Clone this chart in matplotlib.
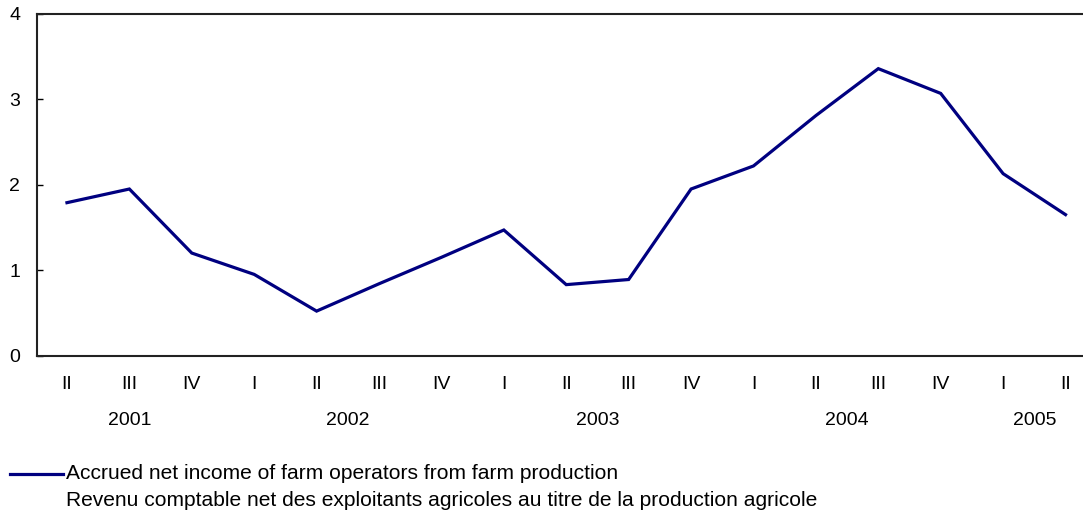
import matplotlib
matplotlib.use("Agg")
import matplotlib.pyplot as plt
from matplotlib.lines import Line2D
from matplotlib.transforms import blended_transform_factory

plt.rcParams['font.family'] = ['Liberation Sans', 'DejaVu Sans']

quarters = ["II", "III", "IV", "I", "II", "III", "IV", "I", "II", "III", "IV",
            "I", "II", "III", "IV", "I", "II"]
values = [1.79, 1.95, 1.20, 0.95, 0.52, 0.84, 1.15, 1.47, 0.83, 0.89, 1.95,
          2.22, 2.81, 3.36, 3.07, 2.13, 1.65]
years = ["2001", "2002", "2003", "2004", "2005"]
year_spans = [(0, 2), (3, 6), (7, 10), (11, 14), (15, 16)]
legend_en = "Accrued net income of farm operators from farm production"
legend_fr = "Revenu comptable net des exploitants agricoles au titre de la production agricole"

W, H = 1083, 513
fig = plt.figure(figsize=(W / 100, H / 100), dpi=100)
ax = fig.add_axes([37 / W, 1 - 355.5 / H, 1 - 37 / W, (355.5 - 14) / H])

x = list(range(len(values)))
ax.plot(x, values, color="#000080", linewidth=2.3, solid_joinstyle="miter")

ax.set_ylim(0, 4)
ax.set_xlim(-0.48, 16.28)
ax.set_yticks([0, 1, 2, 3, 4])
ax.set_yticklabels(["0", "1", "2", "3", "4"], fontsize=14)
ax.tick_params(axis="y", direction="in", length=4, width=1, pad=12, colors="black")
ax.set_xticks(x)
ax.set_xticklabels(quarters, fontsize=14)
ax.tick_params(axis="x", length=0, pad=15)

for s in ["left", "bottom", "top"]:
    ax.spines[s].set_linewidth(1.5)
    ax.spines[s].set_color("#222222")
ax.spines["right"].set_visible(False)

trans = blended_transform_factory(ax.transData, fig.transFigure)
for yr, (a, b) in zip(years, year_spans):
    ax.text((a + b) / 2, 1 - 420.5 / H, yr, transform=trans, ha="center",
            va="center", fontsize=14)

fig.add_artist(Line2D([10 / W, 63 / W], [1 - 473.5 / H, 1 - 473.5 / H],
                      color="#000080", linewidth=2.3, transform=fig.transFigure))
fig.text(66 / W, 1 - 479 / H, legend_en, fontsize=15.1, va="baseline", ha="left")
fig.text(66 / W, 1 - 506 / H, legend_fr, fontsize=15.1, va="baseline", ha="left")

fig.savefig("out.png", dpi=100)
